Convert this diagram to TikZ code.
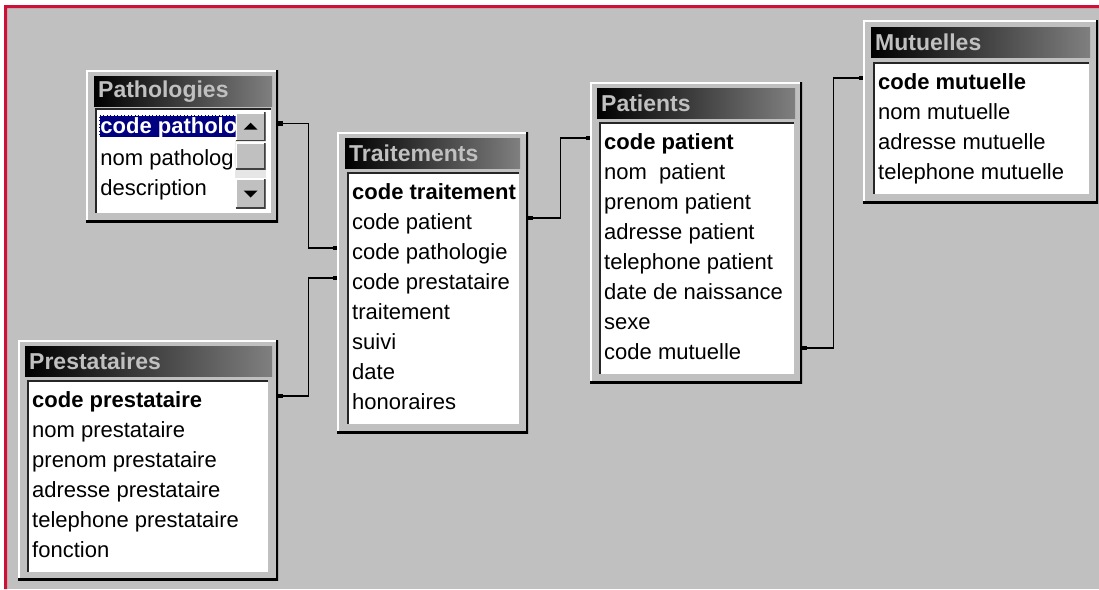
\documentclass[tikz,border=0pt]{standalone}
\usepackage{fontspec}
\setmainfont{Liberation Sans}
\usetikzlibrary{matrix,arrows.meta}
\definecolor{winface}{RGB}{192,192,192}
\definecolor{pagered}{RGB}{204,16,56}
\definecolor{selblue}{RGB}{0,0,128}
\newcommand{\rowfont}{\fontsize{22}{24}\selectfont}
\newcommand{\headfont}{\fontsize{23}{25}\selectfont\bfseries}

\begin{document}
\begin{tikzpicture}[x=1pt,y=-1pt,
    raised/.style={path picture={
      \draw[white,line width=4pt] (path picture bounding box.south west) |- (path picture bounding box.north east);
      \draw[black,line width=4pt] (path picture bounding box.south west) -| (path picture bounding box.north east);}},
    sunken/.style={path picture={
      \draw[black!85,line width=4pt] (path picture bounding box.south west) |- (path picture bounding box.north east);}},
    window/.style={raised,fill=winface,anchor=north west,inner sep=0pt},
    titlebar/.style={anchor=north west,inner sep=0pt,minimum height=30pt,left color=black,right color=black!50},
    titletext/.style={anchor=west,inner xsep=4pt,text=winface,font=\headfont},
    listbox/.style={sunken,fill=white,anchor=north west,inner sep=0pt},
    field/.style={anchor=west,inner xsep=1pt,inner ysep=0pt,minimum height=30pt,text height=18pt,text depth=3pt,font=\rowfont},
    keyfield/.style={font=\rowfont\bfseries},
    hilite/.style={keyfield,fill=selblue,text=white,draw=white,densely dotted,minimum height=22pt},
    rows/.style={matrix of nodes,nodes={field},inner sep=0pt,anchor=north west},
    button/.style={fill=winface,anchor=north west,inner sep=0pt,minimum width=30pt,minimum height=29pt,path picture={
      \draw[white,line width=3pt] (path picture bounding box.south west) |- (path picture bounding box.north east);
      \draw[black!75,line width=3pt] (path picture bounding box.south west) -| (path picture bounding box.north east);}},
    link/.style={line width=1.5pt,{Square[length=4.5pt,width=4.5pt]}-{Square[length=4.5pt,width=4.5pt]}}
]
\useasboundingbox (0,0) rectangle (1099,589);
\fill[white] (0,0) rectangle (1099,589);
\fill[winface] (7,8) rectangle (1099,589);
\fill[pagered] (4,5) rectangle (1099,8) (4,5) rectangle (7,589);

% Pathologies
\node[window,minimum width=192pt,minimum height=152pt] (patho) at (86,70) {};
\node[titlebar,minimum width=178pt,label={[titletext]west:Pathologies}] (patho-title) at ([shift={(8,6)}]patho.north west) {};
\node[listbox,minimum width=176pt,minimum height=105pt] (patho-list) at ([shift={(9,38)}]patho.north west) {};
\matrix (patho-rows) [rows] at ([shift={(4,7)}]patho-list.north west) {
  |[hilite]| code patholog \\[5pt]
  nom pathologi \\
  description \\
};
\node[button] (patho-up) at ([shift={(-36,4)}]patho-list.north east) {};
\node[button,minimum height=30pt] (patho-down) at ([shift={(-36,-35)}]patho-list.south east) {};
\fill[winface!40!white] (patho-up.south west) rectangle (patho-down.north east);
\node[button,minimum height=27pt] (patho-thumb) at ([shift={(0,1)}]patho-up.south west) {};
\fill (patho-up.center) ++(-7,3) -- ++(14,0) -- ++(-7,-7) -- cycle;
\fill (patho-down.center) ++(-7,-3) -- ++(14,0) -- ++(-7,7) -- cycle;

% Traitements
\node[window,minimum width=191pt,minimum height=301pt] (trait) at (337,132) {};
\node[titlebar,minimum width=175pt,label={[titletext]west:Traitements}] (trait-title) at ([shift={(8,6)}]trait.north west) {};
\node[listbox,minimum width=172pt,minimum height=252pt] (trait-list) at ([shift={(10,40)}]trait.north west) {};
\matrix (trait-rows) [rows] at ([shift={(4,5)}]trait-list.north west) {
  |[keyfield]| code traitement \\
  code patient \\
  code pathologie \\
  code prestataire \\
  traitement \\
  suivi \\
  date \\
  honoraires \\
};

% Prestataires
\node[window,minimum width=260pt,minimum height=240pt] (presta) at (18,340) {};
\node[titlebar,minimum width=247pt,label={[titletext]west:Prestataires}] (presta-title) at ([shift={(7,6)}]presta.north west) {};
\node[listbox,minimum width=241pt,minimum height=192pt] (presta-list) at ([shift={(9,40)}]presta.north west) {};
\matrix (presta-rows) [rows] at ([shift={(4,5)}]presta-list.north west) {
  |[keyfield]| code prestataire \\
  nom prestataire \\
  prenom prestataire \\
  adresse prestataire \\
  telephone prestataire \\
  fonction \\
};

% Patients
\node[window,minimum width=212pt,minimum height=301pt] (pat) at (590,82) {};
\node[titlebar,minimum width=198pt,label={[titletext]west:Patients}] (pat-title) at ([shift={(7,6)}]pat.north west) {};
\node[listbox,minimum width=195pt,minimum height=252pt] (pat-list) at ([shift={(9,40)}]pat.north west) {};
\matrix (pat-rows) [rows] at ([shift={(4,5)}]pat-list.north west) {
  |[keyfield]| code patient \\
  nom\ \ patient \\
  prenom patient \\
  adresse patient \\
  telephone patient \\
  date de naissance \\
  sexe \\
  code mutuelle \\
};

% Mutuelles
\node[window,minimum width=235pt,minimum height=183pt] (mut) at (863,20) {};
\node[titlebar,minimum width=219pt,label={[titletext]west:Mutuelles}] (mut-title) at ([shift={(8,7)}]mut.north west) {};
\node[listbox,minimum width=216pt,minimum height=132pt] (mut-list) at ([shift={(10,42)}]mut.north west) {};
\matrix (mut-rows) [rows] at ([shift={(4,5)}]mut-list.north west) {
  |[keyfield]| code mutuelle \\
  nom mutuelle \\
  adresse mutuelle \\
  telephone mutuelle \\
};

% relations
\draw[link] ([yshift=3pt]patho.east |- patho-rows-1-1) -- ++(30,0) |- ([yshift=4pt]trait.west |- trait-rows-3-1);
\draw[link] ([yshift=4pt]presta.east |- presta-rows-1-1) -- ++(30,0) |- ([yshift=4pt]trait.west |- trait-rows-4-1);
\draw[link] ([yshift=4pt]trait.east |- trait-rows-2-1) -- ++(32,0) |- ([yshift=4pt]pat.west |- pat-rows-1-1);
\draw[link] ([yshift=4pt]pat.east |- pat-rows-8-1) -- ++(31,0) |- ([yshift=4pt]mut.west |- mut-rows-1-1);
\end{tikzpicture}
\end{document}
